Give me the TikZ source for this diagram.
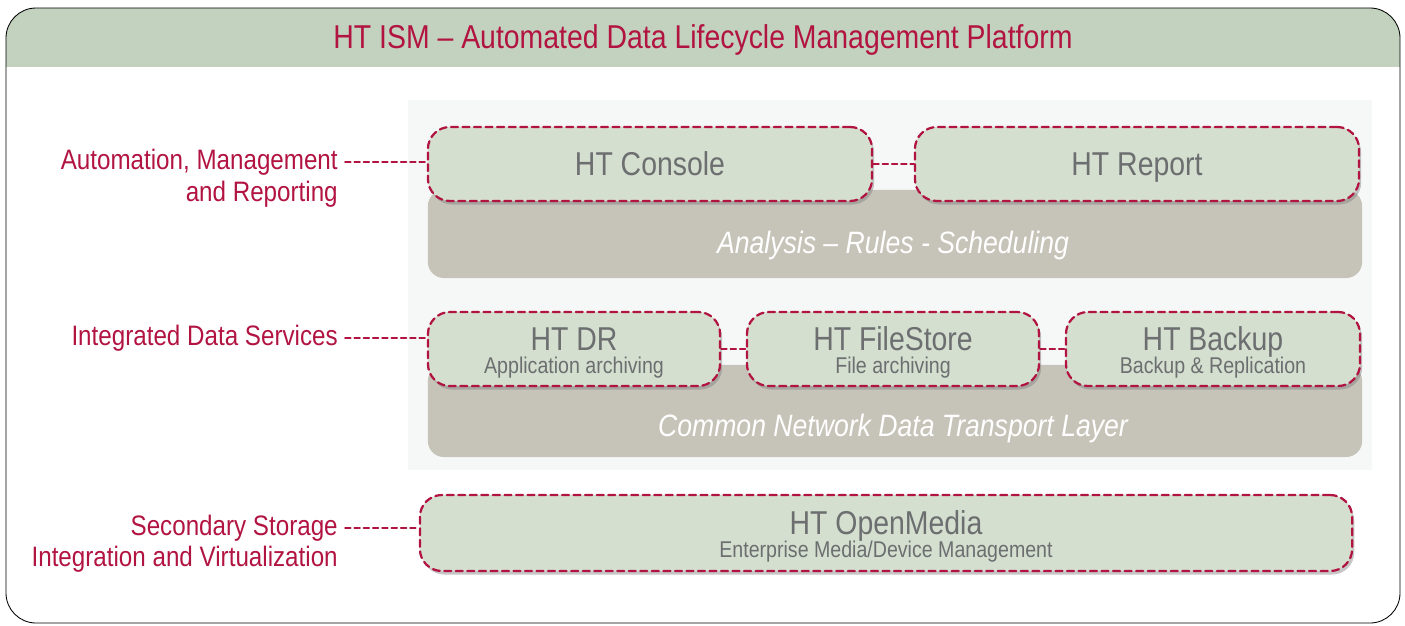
\documentclass[tikz,border=0pt]{standalone}
\usepackage{amsmath}
\usepackage{fontspec}
\setmainfont{Liberation Sans}[FakeStretch=0.86]
\usepackage{tikz}
\usetikzlibrary{positioning,shadows}

\definecolor{htred}{RGB}{178,20,66}
\definecolor{hthead}{RGB}{195,210,191}
\definecolor{htbox}{RGB}{212,223,207}
\definecolor{htbar}{RGB}{198,195,184}
\definecolor{htpanel}{RGB}{246,247,247}
\definecolor{httext}{RGB}{108,110,112}

\tikzset{
  modbox/.style={draw=htred,fill=htbox,line width=1.6pt,dash pattern=on 5pt off 3.2pt,
    rounded corners=0.55cm,minimum height=1.85cm,text=httext,align=center,inner sep=0pt,
    drop shadow={shadow xshift=1.5pt,shadow yshift=-2.5pt,opacity=0.45}},
  layerbar/.style={fill=htbar,rounded corners=0.4cm,minimum width=23.35cm,inner sep=0pt},
  lbl/.style={text=htred,font=\fontsize{20}{24}\selectfont,align=right,inner sep=0pt},
  link/.style={draw=htred,line width=1.3pt,dash pattern=on 4pt off 2.6pt},
  mainfnt/.style={font=\fontsize{23.5}{25}\selectfont},
  bartxt/.style={text=white,font=\fontsize{22}{24}\selectfont\itshape},
}
\newcommand{\subtxt}[1]{{\fontsize{16.2}{17}\selectfont #1}}
\newcommand{\uppad}{\rule{0pt}{22pt}}

\begin{document}
\begin{tikzpicture}[line cap=round,line join=round,x=0.025cm,y=-0.025cm]
  \useasboundingbox (0,0) rectangle (1405,625);

  % frame and title band
  \begin{scope}
    \clip[rounded corners=0.75cm] (6,8) rectangle (1400,623);
    \fill[hthead] (6,8) rectangle (1400,67);
  \end{scope}
  \draw[line width=0.6pt,rounded corners=0.75cm] (6,8) rectangle (1400,623);
  \node[text=htred,font=\fontsize{23.5}{26}\selectfont] (title) at (703,40)
    {HT ISM -- Automated Data Lifecycle Management Platform};

  % light panel behind the two layers
  \fill[htpanel] (408,100) rectangle (1372,470);

  % layer bars
  \node[layerbar,minimum height=2.2cm] (anabar) at (895,234) {};
  \node[bartxt] (anatxt) at (893,245) {Analysis -- Rules - Scheduling};
  \node[layerbar,minimum height=2.3cm] (netbar) at (895,411) {};
  \node[bartxt] (nettxt) at (893,428) {Common Network Data Transport Layer};

  % modules
  \node[modbox,mainfnt,minimum width=11.1cm] (con) at (650,164) {HT Console};
  \node[modbox,mainfnt,minimum width=11.1cm] (rep) at (1137,164) {\smash[b]{HT Report}};
  \node[modbox,mainfnt,minimum width=7.3cm] (dr) at (574,349)
    {\uppad HT DR\\[-9pt]\subtxt{Application archiving}};
  \node[modbox,mainfnt,minimum width=7.3cm] (fs) at (893,349)
    {\uppad HT FileStore\\[-9pt]\subtxt{File archiving}};
  \node[modbox,mainfnt,minimum width=7.35cm] (bak) at (1213,349)
    {\uppad HT Backup\\[-9pt]\subtxt{Backup \& Replication}};
  \node[modbox,mainfnt,minimum width=23.3cm,minimum height=1.9cm] (om) at (886,533)
    {\uppad HT OpenMedia\\[-9pt]\subtxt{Enterprise Media/Device Management}};

  % links between modules
  \draw[link] (con.east) -- (rep.west);
  \draw[link] (dr.east) -- (fs.west);
  \draw[link] (fs.east) -- (bak.west);

  % left labels
  \node[lbl,anchor=east] (autolbl) at (338,162) {Automation, Management};
  \node[lbl,anchor=east] (autolbl2) at (338,194) {and Reporting};
  \node[lbl,anchor=east] (datalbl) at (338,338) {Integrated Data Services};
  \node[lbl,anchor=east] (storlbl) at (338,528) {Secondary Storage};
  \node[lbl,anchor=east] (storlbl2) at (338,559) {Integration and Virtualization};

  \draw[link] ([xshift=5pt]autolbl.east) -- (autolbl.east -| con.west);
  \draw[link] ([xshift=5pt]datalbl.east) -- (datalbl.east -| dr.west);
  \draw[link] ([xshift=5pt]storlbl.east) -- (storlbl.east -| om.west);
\end{tikzpicture}
\end{document}
